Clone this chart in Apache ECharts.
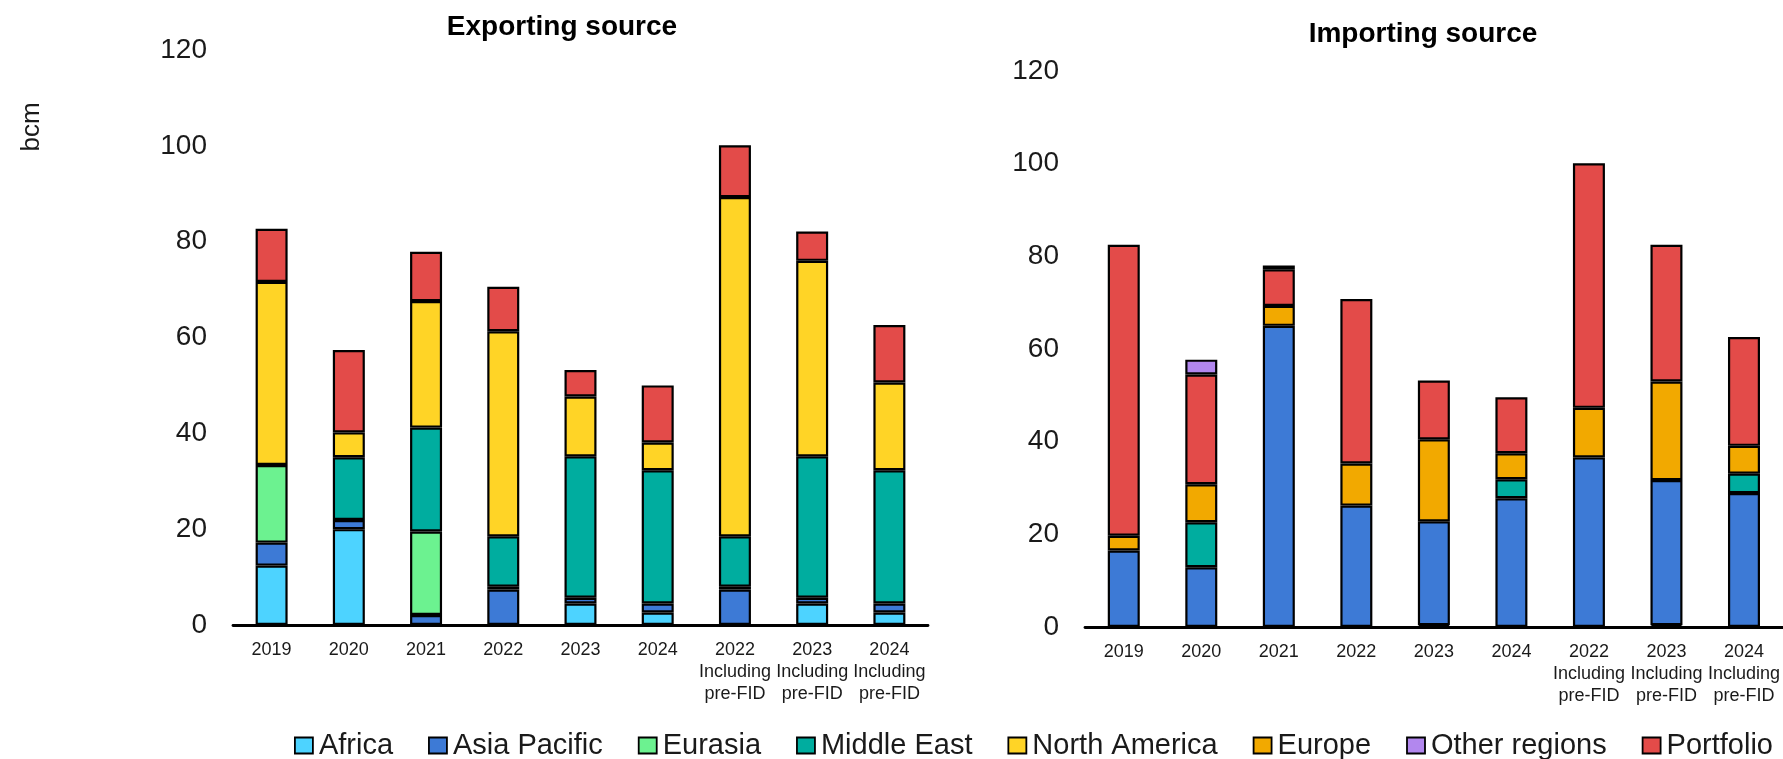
<!DOCTYPE html>
<html>
<head>
<meta charset="utf-8">
<title>LNG contracts by source</title>
<script src="https://cdn.jsdelivr.net/npm/echarts@6/dist/echarts.min.js"></script>
<style>
  html, body { margin: 0; padding: 0; background: #fff; }
  #chart { width: 1783px; height: 759px; }
</style>
</head>
<body>
<div id="chart"></div>
<script>
// Categories shared by both panels
const categories = [
  '2019', '2020', '2021', '2022', '2023', '2024',
  '2022\nIncluding\npre-FID', '2023\nIncluding\npre-FID', '2024\nIncluding\npre-FID'
];

// Tick labels of the value axes (bcm)
const yTicks = [0, 20, 40, 60, 80, 100, 120];

// Legend / stacking names
const regions = ['Africa', 'Asia Pacific', 'Eurasia', 'Middle East', 'North America', 'Europe', 'Other regions', 'Portfolio'];
const stackOrder = ['Africa', 'Asia Pacific', 'Eurasia', 'Middle East', 'North America', 'Europe', 'Portfolio', 'Other regions'];

// Exporting source, bcm
const expAfrica       = [12.4, 20.0, null, null, 4.5, 2.6, null, 4.5, 2.6];
const expAsiaPacific  = [4.8, 1.9, 2.1, 7.4, 1.2, 1.9, 7.4, 1.2, 1.9];
const expEurasia      = [16.2, null, 17.4, 0.6, null, null, 0.6, null, null];
const expMiddleEast   = [null, 13.1, 21.7, 10.5, 29.5, 27.8, 10.5, 29.5, 27.8];
const expNorthAmerica = [38.2, 5.2, 26.4, 42.8, 12.5, 5.8, 70.8, 40.8, 18.3];
const expEurope       = [null, null, null, null, null, null, null, null, null];
const expOther        = [null, null, null, null, null, null, null, null, null];
const expPortfolio    = [11.1, 17.2, 10.3, 9.3, 5.5, 11.9, 10.8, 6.1, 12.0];

// Importing source, bcm
const impAfrica       = [null, null, null, null, 0.4, null, null, 0.4, null];
const impAsiaPacific  = [16.5, 12.9, 65.0, 26.2, 22.4, 27.8, 36.6, 31.3, 28.9];
const impEurasia      = [null, null, null, null, null, null, null, null, null];
const impMiddleEast   = [null, 9.7, null, null, null, 4.1, null, null, 4.2];
const impNorthAmerica = [null, null, null, null, null, null, null, null, null];
const impEurope       = [3.2, 8.2, 4.3, 9.1, 17.7, 5.6, 10.7, 21.3, 6.0];
const impOther        = [null, 3.2, 0.8, null, null, null, null, null, null];
const impPortfolio    = [62.8, 23.7, 7.9, 35.5, 12.7, 12.1, 52.8, 29.5, 23.5];

const colors = {
  'Africa': '#4DD3FF',
  'Asia Pacific': '#3D7AD6',
  'Eurasia': '#6CF290',
  'Middle East': '#00AD9F',
  'North America': '#FFD426',
  'Europe': '#F2A900',
  'Other regions': '#B287EE',
  'Portfolio': '#E34B49'
};

const exporting = {
  'Africa': expAfrica, 'Asia Pacific': expAsiaPacific, 'Eurasia': expEurasia,
  'Middle East': expMiddleEast, 'North America': expNorthAmerica, 'Europe': expEurope,
  'Other regions': expOther, 'Portfolio': expPortfolio
};
const importing = {
  'Africa': impAfrica, 'Asia Pacific': impAsiaPacific, 'Eurasia': impEurasia,
  'Middle East': impMiddleEast, 'North America': impNorthAmerica, 'Europe': impEurope,
  'Other regions': impOther, 'Portfolio': impPortfolio
};

const FONT = '"Liberation Sans", Arial, Helvetica, sans-serif';

function panelSeries(table, axisIndex, stackName) {
  return stackOrder.map(name => ({
    name: name,
    type: 'bar',
    stack: stackName,
    xAxisIndex: axisIndex,
    yAxisIndex: axisIndex,
    barWidth: 32,
    data: table[name],
    itemStyle: { color: colors[name], borderColor: '#000', borderWidth: 2.2 },
    emphasis: { disabled: true }
  }));
}

function xAxisFor(gridIndex) {
  return {
    type: 'category',
    gridIndex: gridIndex,
    data: categories,
    axisLine: { show: true, lineStyle: { color: '#000', width: 2.8 } },
    axisTick: { show: false },
    axisLabel: {
      interval: 0, margin: 14, fontSize: 18, lineHeight: 22,
      color: '#1a1a1a', fontFamily: FONT
    }
  };
}

function yAxisFor(gridIndex) {
  return {
    type: 'value',
    gridIndex: gridIndex,
    min: yTicks[0],
    max: yTicks[yTicks.length - 1],
    interval: yTicks[1] - yTicks[0],
    splitLine: { show: false },
    axisLine: { show: false },
    axisTick: { show: false },
    axisLabel: { margin: 26, fontSize: 28, color: '#1a1a1a', fontFamily: FONT }
  };
}

const chart = echarts.init(document.getElementById('chart'), null, { renderer: 'canvas' });

chart.setOption({
  animation: false,
  backgroundColor: '#fff',
  textStyle: { fontFamily: FONT },
  grid: [
    { left: 233, top: 50, width: 695, height: 575 },
    { left: 1085, top: 71, width: 698, height: 556 }
  ],
  xAxis: [xAxisFor(0), xAxisFor(1)],
  yAxis: [yAxisFor(0), yAxisFor(1)],
  legend: {
    data: regions,
    left: 294,
    top: 731,
    padding: 0,
    itemGap: 35,
    itemWidth: 18,
    itemHeight: 16,
    icon: 'rect',
    itemStyle: { borderColor: '#000', borderWidth: 1.8 },
    textStyle: { fontSize: 29, color: '#1a1a1a', fontFamily: FONT, padding: [0, 0, 0, 1] },
    selectedMode: true
  },
  graphic: [
    {
      type: 'text', x: 562, y: 27,
      style: { text: 'Exporting source', font: 'bold 28px ' + FONT, fill: '#000', textAlign: 'center', textVerticalAlign: 'middle' }
    },
    {
      type: 'text', x: 1423, y: 34,
      style: { text: 'Importing source', font: 'bold 28px ' + FONT, fill: '#000', textAlign: 'center', textVerticalAlign: 'middle' }
    },
    {
      type: 'text', x: 32, y: 127, rotation: Math.PI / 2,
      style: { text: 'bcm', font: '26px ' + FONT, fill: '#1a1a1a', textAlign: 'center', textVerticalAlign: 'middle' }
    }
  ],
  series: panelSeries(exporting, 0, 'exp').concat(panelSeries(importing, 1, 'imp'))
});
</script>
</body>
</html>
